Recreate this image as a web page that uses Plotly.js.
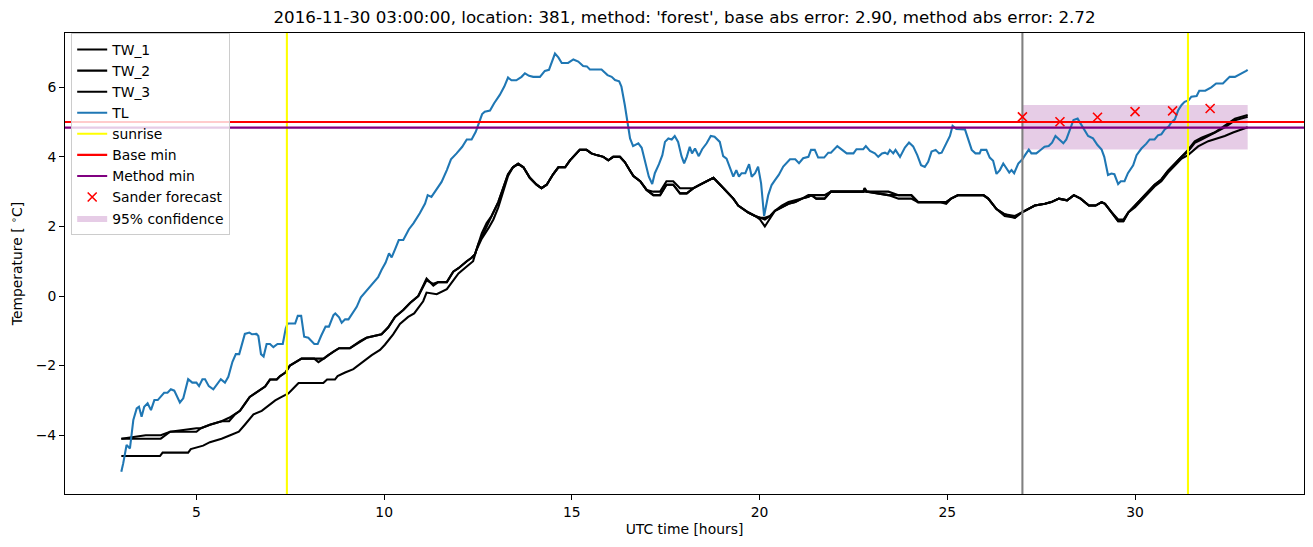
<!DOCTYPE html>
<html>
<head>
<meta charset="utf-8">
<script src="https://cdn.plot.ly/plotly-3.0.1.min.js"></script>
<style>html,body{margin:0;padding:0;background:#fff;}#chart{width:1313px;height:547px;}</style>
</head>
<body>
<div id="chart"></div>
<script>
// ---------- data ----------
const titleText = "2016-11-30 03:00:00, location: 381, method: 'forest', base abs error: 2.90, method abs error: 2.72";

const tw12_hours = [3.0,3.65,4.05,4.3,5.0,5.12,5.36,5.67,5.87,6.03,6.16,6.29,6.42,6.56,6.69,6.83,6.96,7.14,7.23,7.37,7.49,7.63,7.8,8.14,8.25,8.39,8.51,8.65,8.8,9.09,9.36,9.53,9.93,10.11,10.29,10.51,10.69,10.91,11.13,11.31,11.44,11.67,11.84,11.98,12.2,12.33,12.42,12.51,12.6,12.73,12.86,13.04,13.17,13.3,13.43,13.57,13.71,13.88,14.06,14.19,14.33,14.5,14.64,14.82,14.95,15.08,15.21,15.39,15.52,15.66,15.84,15.97,16.1,16.28,16.41,16.55,16.64,16.82,16.99,17.17,17.35,17.52,17.7,17.88,18.06,18.24,18.41,18.59,18.77,18.95,19.12,19.3,19.43,19.7,19.88,20.01,20.14,20.28,20.41,20.59,20.77,20.95,21.13,21.3,21.38,21.51,21.73,21.9,22.76,22.8,22.85,23.43,23.7,24.04,24.22,24.8,24.97,25.1,25.29,25.96,26.09,26.31,26.53,26.8,26.98,27.15,27.33,27.6,27.77,27.97,28.19,28.37,28.55,28.77,28.95,29.11,29.2,29.38,29.55,29.69,29.82,30.0,30.17,30.35,30.52,30.7,30.88,31.06,31.24,31.41,31.59,31.77,32.12,32.39,32.66,33.0];
const tw1_values = [-4.1,-4.1,-4.1,-3.9,-3.9,-3.8,-3.7,-3.6,-3.6,-3.4,-3.3,-3.1,-2.9,-2.8,-2.7,-2.6,-2.4,-2.4,-2.3,-2.2,-2.0,-1.9,-1.8,-1.8,-1.9,-1.8,-1.7,-1.6,-1.5,-1.5,-1.3,-1.2,-1.1,-0.9,-0.6,-0.4,-0.2,0.0,0.5,0.3,0.4,0.4,0.7,0.8,1.0,1.1,1.2,1.5,1.8,2.1,2.3,2.7,3.1,3.5,3.7,3.8,3.7,3.4,3.2,3.1,3.2,3.5,3.7,3.7,3.9,4.05,4.2,4.2,4.1,4.05,4.0,3.9,4.0,4.0,3.85,3.6,3.45,3.3,3.05,2.9,2.9,3.2,3.2,2.95,2.95,3.1,3.2,3.3,3.4,3.2,3.0,2.8,2.6,2.4,2.3,2.25,2.2,2.3,2.45,2.55,2.65,2.7,2.8,2.85,2.9,2.8,2.8,3.0,3.0,3.1,3.0,3.0,2.9,2.9,2.7,2.7,2.7,2.8,2.9,2.9,2.8,2.5,2.35,2.3,2.4,2.5,2.6,2.65,2.7,2.8,2.75,2.9,2.8,2.6,2.6,2.7,2.65,2.4,2.15,2.15,2.4,2.6,2.8,3.0,3.2,3.35,3.6,3.8,4.0,4.2,4.45,4.55,4.7,4.9,5.1,5.2];
const tw2_values = [-4.1,-4.0,-4.0,-3.9,-3.8,-3.8,-3.7,-3.6,-3.5,-3.4,-3.3,-3.1,-2.9,-2.8,-2.7,-2.6,-2.4,-2.4,-2.3,-2.2,-2.0,-1.9,-1.8,-1.8,-1.8,-1.8,-1.7,-1.6,-1.5,-1.5,-1.3,-1.2,-1.1,-0.9,-0.6,-0.4,-0.2,0.0,0.45,0.35,0.4,0.4,0.7,0.8,1.0,1.1,1.2,1.5,1.7,2.0,2.3,2.7,3.1,3.5,3.7,3.8,3.7,3.4,3.2,3.1,3.2,3.5,3.7,3.7,3.9,4.05,4.2,4.2,4.1,4.05,4.0,3.9,4.0,4.0,3.85,3.6,3.45,3.3,3.05,3.0,3.0,3.3,3.3,3.1,3.1,3.1,3.2,3.3,3.4,3.2,3.0,2.8,2.6,2.4,2.3,2.25,2.25,2.3,2.45,2.6,2.7,2.75,2.8,2.9,2.9,2.9,2.9,3.0,3.0,3.1,3.0,2.9,2.8,2.8,2.7,2.7,2.7,2.8,2.9,2.9,2.8,2.5,2.35,2.25,2.4,2.5,2.6,2.65,2.7,2.8,2.75,2.9,2.8,2.6,2.6,2.7,2.65,2.4,2.2,2.2,2.4,2.6,2.8,3.0,3.2,3.35,3.6,3.8,4.0,4.15,4.4,4.5,4.7,4.85,5.05,5.15];
const tw3_hours = [3.0,4.03,4.1,4.78,4.85,5.18,5.36,5.67,5.9,6.13,6.29,6.52,6.74,6.96,7.1,7.27,7.45,7.63,7.72,8.38,8.48,8.69,8.76,8.96,9.18,9.67,9.89,10.02,10.24,10.42,10.64,10.8,11.04,11.13,11.4,11.67,11.98,12.2,12.37,12.45,12.6,12.78,12.91,13.04,13.17,13.3,13.43,13.57,13.71,13.88,14.06,14.19,14.33,14.5,14.64,14.82,14.95,15.08,15.21,15.39,15.52,15.66,15.84,15.97,16.1,16.28,16.41,16.55,16.64,16.82,16.99,17.17,17.35,17.52,17.7,17.88,18.06,18.24,18.41,18.59,18.77,18.95,19.12,19.3,19.43,19.7,19.88,20.01,20.14,20.28,20.41,20.59,20.77,20.95,21.13,21.3,21.38,21.51,21.73,21.9,22.76,22.85,23.43,23.7,24.04,24.22,24.8,24.97,25.1,25.29,25.96,26.09,26.31,26.53,26.8,26.98,27.15,27.33,27.6,27.77,27.97,28.19,28.37,28.55,28.77,28.95,29.11,29.2,29.38,29.55,29.69,29.82,30.0,30.17,30.35,30.52,30.7,30.88,31.06,31.24,31.41,31.68,31.95,32.12,32.39,32.61,33.0];
const tw3_values = [-4.6,-4.6,-4.5,-4.5,-4.4,-4.3,-4.2,-4.1,-4.0,-3.9,-3.7,-3.4,-3.3,-3.1,-3.0,-2.9,-2.8,-2.6,-2.5,-2.5,-2.4,-2.4,-2.3,-2.2,-2.1,-1.7,-1.55,-1.4,-1.1,-0.8,-0.6,-0.5,-0.15,0.1,0.05,0.2,0.65,0.85,1.0,1.3,1.65,1.95,2.2,2.55,3.0,3.45,3.7,3.8,3.7,3.4,3.2,3.1,3.2,3.5,3.7,3.7,3.9,4.05,4.2,4.2,4.1,4.05,4.0,3.9,4.0,4.0,3.85,3.6,3.45,3.3,3.05,2.9,2.9,3.2,3.2,2.95,2.95,3.1,3.2,3.3,3.4,3.2,3.0,2.8,2.6,2.4,2.3,2.2,2.0,2.25,2.45,2.55,2.65,2.7,2.8,2.85,2.9,2.8,2.8,3.0,3.0,3.0,2.9,2.9,2.9,2.7,2.7,2.65,2.8,2.9,2.9,2.8,2.5,2.3,2.25,2.4,2.5,2.6,2.65,2.7,2.8,2.75,2.9,2.8,2.6,2.6,2.7,2.65,2.4,2.15,2.15,2.4,2.55,2.75,2.95,3.15,3.3,3.55,3.75,3.95,4.05,4.3,4.45,4.5,4.6,4.7,4.85];

const tl_hours = [3.0,3.05,3.14,3.23,3.32,3.41,3.47,3.54,3.61,3.7,3.79,3.88,3.97,4.14,4.23,4.32,4.41,4.47,4.56,4.65,4.78,4.89,5.0,5.07,5.16,5.23,5.33,5.45,5.54,5.65,5.76,5.85,5.96,6.05,6.14,6.21,6.29,6.41,6.48,6.6,6.65,6.72,6.79,6.87,6.96,7.05,7.16,7.3,7.38,7.43,7.63,7.7,7.79,7.87,7.98,8.14,8.23,8.32,8.44,8.53,8.65,8.7,8.8,8.87,8.96,9.05,9.15,9.27,9.38,9.53,9.67,9.84,9.93,10.04,10.13,10.2,10.29,10.39,10.51,10.66,10.78,10.95,11.09,11.16,11.26,11.4,11.53,11.67,11.78,11.93,12.08,12.2,12.33,12.44,12.53,12.61,12.68,12.82,12.93,13.08,13.2,13.3,13.39,13.52,13.66,13.75,13.86,13.97,14.15,14.28,14.39,14.46,14.55,14.64,14.73,14.9,15.04,15.17,15.3,15.4,15.48,15.79,15.95,16.06,16.15,16.26,16.32,16.41,16.5,16.55,16.63,16.77,16.86,16.95,17.05,17.14,17.21,17.32,17.41,17.48,17.57,17.66,17.74,17.83,17.92,17.99,18.06,18.14,18.2,18.28,18.38,18.47,18.59,18.7,18.8,18.94,19.03,19.12,19.21,19.3,19.38,19.45,19.52,19.62,19.72,19.79,19.88,19.96,20.04,20.12,20.23,20.32,20.41,20.51,20.63,20.72,20.81,20.95,21.05,21.16,21.3,21.37,21.47,21.56,21.72,21.83,21.9,22.07,22.17,22.32,22.5,22.58,22.76,22.83,22.94,23.07,23.16,23.26,23.34,23.41,23.47,23.56,23.62,23.74,23.87,23.98,24.09,24.2,24.3,24.4,24.49,24.58,24.69,24.78,24.85,24.97,25.07,25.14,25.24,25.47,25.56,25.65,25.75,25.86,25.9,26.04,26.13,26.22,26.31,26.4,26.49,26.58,26.65,26.71,26.78,26.89,27.0,27.07,27.17,27.24,27.37,27.5,27.59,27.7,27.79,27.88,27.99,28.09,28.17,28.27,28.36,28.47,28.58,28.67,28.75,28.88,29.0,29.11,29.18,29.28,29.37,29.45,29.55,29.62,29.72,29.81,29.95,30.04,30.17,30.3,30.39,30.52,30.61,30.7,30.79,30.9,30.96,31.06,31.15,31.24,31.32,31.43,31.5,31.64,31.71,31.87,32.03,32.16,32.34,32.52,32.66,32.96,33.0];
const tl_values = [-5.05,-4.81,-4.28,-4.38,-3.56,-3.23,-3.18,-3.47,-3.18,-3.08,-3.28,-2.99,-2.99,-2.78,-2.78,-2.68,-2.72,-2.85,-3.06,-2.94,-2.39,-2.49,-2.49,-2.59,-2.39,-2.39,-2.59,-2.68,-2.56,-2.39,-2.49,-2.32,-1.89,-1.67,-1.67,-1.41,-1.09,-1.05,-1.1,-1.09,-1.15,-1.67,-1.74,-1.38,-1.38,-1.47,-1.38,-1.38,-0.93,-0.79,-0.79,-0.57,-0.57,-1.17,-1.2,-1.38,-1.38,-1.15,-0.88,-0.88,-0.55,-0.5,-0.61,-0.77,-0.67,-0.67,-0.5,-0.31,-0.04,0.15,0.32,0.54,0.75,0.96,1.23,1.11,1.34,1.61,1.61,1.92,2.09,2.38,2.66,2.9,2.85,3.07,3.28,3.62,3.93,4.1,4.29,4.5,4.5,4.72,5.01,5.23,5.3,5.33,5.54,5.78,6.02,6.28,6.2,6.2,6.3,6.4,6.33,6.3,6.3,6.47,6.5,6.73,6.97,6.86,6.7,6.7,6.8,6.74,6.61,6.6,6.51,6.51,6.35,6.3,6.21,6.17,6.02,5.49,4.91,4.53,4.31,4.39,4.26,3.86,3.43,3.22,3.53,3.79,4.05,4.43,4.53,4.5,4.6,4.43,4.02,3.81,4.0,4.29,4.1,4.24,4.02,4.22,4.39,4.6,4.58,4.43,4.02,3.95,3.67,3.43,3.62,3.43,3.53,3.53,3.79,3.43,3.53,3.72,3.24,2.3,2.9,3.19,3.33,3.48,3.72,3.82,3.93,3.93,3.82,3.96,4.0,4.2,4.2,3.98,3.98,4.12,4.12,4.31,4.22,4.1,4.1,4.22,4.22,4.31,4.17,4.1,4.0,4.1,4.12,4.08,4.2,4.1,4.2,4.0,4.27,4.41,4.3,4.05,3.76,3.71,3.86,4.15,4.2,4.1,4.12,4.39,4.6,4.89,4.8,4.79,4.48,4.2,4.1,4.1,4.2,4.2,3.98,3.89,3.51,3.62,3.81,3.64,3.55,3.62,3.53,3.81,3.93,4.05,4.21,4.1,4.1,4.21,4.29,4.31,4.41,4.6,4.5,4.39,4.5,4.82,5.06,5.1,4.91,4.72,4.6,4.53,4.34,4.21,4.0,3.48,3.52,3.5,3.22,3.3,3.3,3.53,3.76,4.05,4.24,4.38,4.5,4.5,4.62,4.65,4.79,4.88,4.98,5.08,5.34,5.49,5.58,5.63,5.73,5.75,5.9,5.9,6.0,6.11,6.11,6.3,6.3,6.47,6.5];

const sunrise_hours = [7.41, 31.41];
const forecast_start = 27;
const base_min = 5.0;
const method_min = 4.84;
const forecast_hours = [27, 28, 29, 30, 31, 32];
const sander_values = [5.15, 5.01, 5.14, 5.30, 5.32, 5.39];
const conf_hours = [27, 33];
const conf_low = [4.21, 4.21];
const conf_high = [5.49, 5.49];

const x_ticks = [5, 10, 15, 20, 25, 30];
const y_ticks = [-4, -2, 0, 2, 4, 6];
const xRange = [1.5, 34.5];
const yRange = [-5.69, 7.56];

// ---------- traces ----------
const FONT = 'DejaVu Sans, sans-serif';
const FS = 13.9;
const LW = 2.08;
const traces = [];

traces.push({
  x: [conf_hours[0], conf_hours[1], conf_hours[1], conf_hours[0]],
  y: [conf_low[0], conf_low[1], conf_high[1], conf_high[0]],
  fill: 'toself', fillcolor: 'rgba(128,0,128,0.2)', mode: 'lines',
  line: {width: 0, color: 'rgba(0,0,0,0)'}, name: '95% confidence', legendrank: 9,
  hoverinfo: 'skip'
});
traces.push({x: tw12_hours, y: tw1_values, mode: 'lines', line: {color: 'black', width: LW}, name: 'TW_1', legendrank: 1});
traces.push({x: tw12_hours, y: tw2_values, mode: 'lines', line: {color: 'black', width: LW}, name: 'TW_2', legendrank: 2});
traces.push({x: tw3_hours, y: tw3_values, mode: 'lines', line: {color: 'black', width: LW}, name: 'TW_3', legendrank: 3});
traces.push({x: tl_hours, y: tl_values, mode: 'lines', line: {color: '#1f77b4', width: LW}, name: 'TL', legendrank: 4});
const sx = [], sy = [];
sunrise_hours.forEach((h, i) => { if (i) { sx.push(null); sy.push(null); } sx.push(h, h); sy.push(yRange[0], yRange[1]); });
traces.push({x: sx, y: sy, mode: 'lines', line: {color: '#ffff00', width: LW}, name: 'sunrise', legendrank: 5});
traces.push({x: [forecast_start, forecast_start], y: yRange, mode: 'lines', line: {color: 'gray', width: LW}, showlegend: false});
traces.push({x: xRange, y: [base_min, base_min], mode: 'lines', line: {color: 'red', width: LW}, name: 'Base min', legendrank: 6});
traces.push({x: xRange, y: [method_min, method_min], mode: 'lines', line: {color: 'purple', width: LW}, name: 'Method min', legendrank: 7});
traces.push({x: forecast_hours, y: sander_values, mode: 'markers', name: 'Sander forecast', legendrank: 8,
  marker: {symbol: 'x-thin', size: 9, color: 'red', line: {color: 'red', width: 1.6}}});

const axisCommon = {
  showline: true, mirror: true, linecolor: 'black', linewidth: 1,
  ticks: 'outside', ticklen: 5, tickwidth: 1, tickcolor: 'black',
  showgrid: false, zeroline: false,
  tickfont: {family: FONT, size: FS, color: 'black'}
};

const layout = {
  width: 1313, height: 547,
  margin: {l: 65, r: 9, t: 33, b: 53, pad: 0},
  paper_bgcolor: 'white', plot_bgcolor: 'white',
  font: {family: FONT, color: 'black', size: FS},
  title: {text: titleText, font: {family: FONT, size: 16.7, color: 'black'}, x: 0.5, xref: 'paper', y: 1 - 17 / 547, yref: 'container', yanchor: 'middle'},
  xaxis: Object.assign({}, axisCommon, {
    range: xRange, tickmode: 'array', tickvals: x_ticks,
    title: {text: 'UTC time [hours]', font: {family: FONT, size: FS, color: 'black'}, standoff: 5}
  }),
  yaxis: Object.assign({}, axisCommon, {
    range: yRange, tickmode: 'array', tickvals: y_ticks,
    title: {text: 'Temperature [ <sup>∘</sup>C]', font: {family: FONT, size: FS, color: 'black'}, standoff: 9}
  }),
  showlegend: true,
  legend: {
    x: 0.005, y: 1.0, xanchor: 'left', yanchor: 'top',
    bgcolor: 'rgba(255,255,255,0.8)', bordercolor: '#cccccc', borderwidth: 1,
    font: {family: FONT, size: FS, color: 'black'}, tracegroupgap: 0, itemwidth: 30
  }
};

Plotly.newPlot('chart', traces, layout, {staticPlot: true, displayModeBar: false});
</script>
</body>
</html>
